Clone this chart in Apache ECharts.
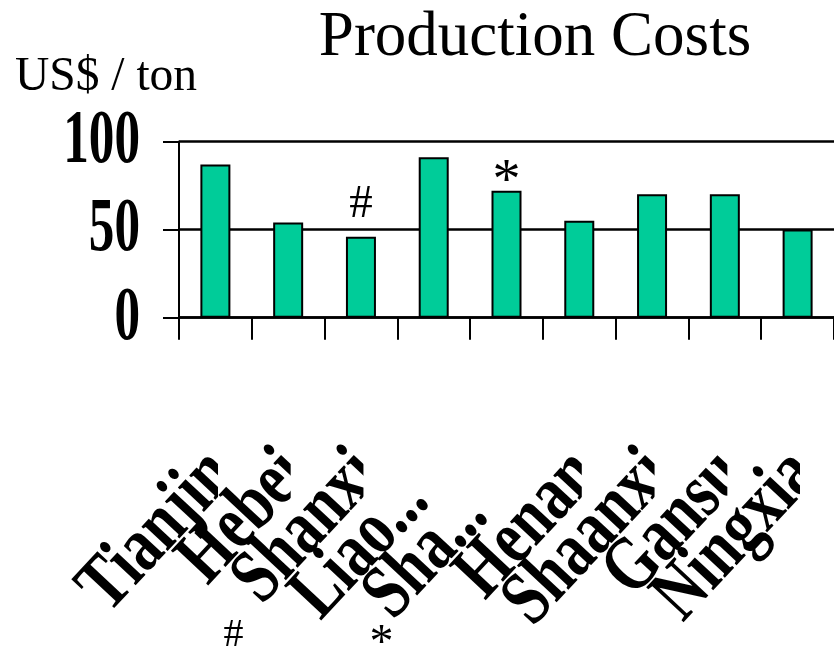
<!DOCTYPE html>
<html>
<head>
<meta charset="utf-8">
<title>Production Costs</title>
<script src="https://cdn.jsdelivr.net/npm/echarts@6/dist/echarts.min.js"></script>
<style>
  html, body { margin: 0; padding: 0; background: #fff; }
  #chart { width: 834px; height: 656px; }
</style>
</head>
<body>
<div id="chart"></div>
<script>
// Production costs per province, US$ per ton
const provinces = ['Tianjin', 'Hebei', 'Shanxi', 'Liaoning', 'Shandong', 'Henan', 'Shaanxi', 'Gansu', 'Ningxia'];
const tickLabels = ['Tianjin', 'Hebei', 'Shanxi', 'Liao...', 'Sha...', 'Henan', 'Shaanxi', 'Gansu', 'Ningxia'];
const costs = [87, 54, 46, 91, 72, 55, 70, 70, 50];
const barMarks = ['', '', '#', '', '*', '', '', '', ''];
const yTicks = [0, 50, 100];
const footnotes = ['#', '*'];

const SERIF = "'Liberation Serif', 'Times New Roman', serif";
const markStyle = { '#': 'hash', '*': 'star' };

// category label box: text is squeezed along its baseline and clipped at the tick
const CAT_FONT = 'bold 78px ' + SERIF;
const CAT_SCALE = 0.77;
const CAT_BOX = 257;
const CAT_ANGLE = 47 * Math.PI / 180;

const chart = echarts.init(document.getElementById('chart'), null, { renderer: 'canvas' });

const option = {
  animation: false,
  backgroundColor: '#fff',
  grid: { left: 179, top: 141.5, width: 662.4, height: 176.2, containLabel: false },
  xAxis: {
    type: 'category',
    data: provinces,
    boundaryGap: true,
    axisLine: { show: true, lineStyle: { color: '#000', width: 2.5 } },
    axisTick: { show: true, length: 22, inside: false, lineStyle: { color: '#000', width: 2 } },
    axisLabel: { show: false },
    splitLine: { show: false }
  },
  yAxis: {
    type: 'value',
    min: 0,
    max: 100,
    interval: 50,
    axisLine: { show: true, lineStyle: { color: '#000', width: 2 } },
    axisTick: { show: true, length: 16, inside: false, lineStyle: { color: '#000', width: 2 } },
    axisLabel: { show: false },
    splitLine: { show: true, lineStyle: { color: '#000', width: 2.5 } }
  },
  graphic: [
    {
      type: 'text', x: 535, y: 38,
      style: { text: 'Production Costs', font: 'normal 63px ' + SERIF, fill: '#000', align: 'center', verticalAlign: 'middle' }
    },
    {
      type: 'text', x: 15, y: 77.5,
      style: { text: 'US$ / ton', font: 'normal 47.5px ' + SERIF, fill: '#000', align: 'left', verticalAlign: 'middle' }
    },
    {
      type: 'text', x: 233.5, y: 635,
      style: { text: footnotes[0], font: 'normal 40px ' + SERIF, fill: '#000', align: 'center', verticalAlign: 'middle' }
    },
    {
      type: 'text', x: 381.5, y: 644,
      style: { text: footnotes[1], font: 'normal 48px ' + SERIF, fill: '#000', align: 'center', verticalAlign: 'middle' }
    }
  ],
  series: [
    {
      type: 'bar',
      data: costs,
      barWidth: 30,
      itemStyle: { color: '#00CC99', borderColor: '#000', borderWidth: 2 },
      label: {
        show: true,
        position: 'top',
        distance: 0,
        formatter: (p) => {
          const m = barMarks[p.dataIndex];
          return m ? '{' + markStyle[m] + '|' + m + '}' : '';
        },
        rich: {
          hash: { fontFamily: SERIF, fontSize: 47, color: '#000', lineHeight: 64 },
          star: { fontFamily: SERIF, fontSize: 56, color: '#000', lineHeight: 16 }
        }
      },
      silent: true,
      z: 3
    },
    {
      // rotated category labels, clipped at the tick position
      type: 'custom',
      data: tickLabels.map((t, i) => [i, 0]),
      encode: { x: 0, y: 1 },
      clip: false,
      silent: true,
      z: 5,
      renderItem: (params, api) => {
        const i = api.value(0);
        const pt = api.coord([i, 0]);
        const text = tickLabels[i];
        const shortened = text.endsWith('...');
        return {
          type: 'group',
          clipPath: { type: 'rect', shape: { x: 0, y: 0, width: pt[0] + 2.5, height: 656 } },
          children: [{
            type: 'text',
            x: pt[0] + 7,
            y: pt[1] + 145,
            rotation: CAT_ANGLE,
            scaleX: CAT_SCALE,
            style: {
              text: text,
              x: shortened ? -CAT_BOX : 0,
              font: CAT_FONT,
              fill: '#000',
              align: shortened ? 'left' : 'right',
              verticalAlign: 'middle'
            }
          }]
        };
      }
    },
    {
      // condensed value-axis labels
      type: 'custom',
      data: yTicks.map((v) => [0, v]),
      encode: { x: 0, y: 1 },
      clip: false,
      silent: true,
      z: 5,
      renderItem: (params, api) => {
        const v = api.value(1);
        const pt = api.coord([0, v]);
        return {
          type: 'text',
          x: params.coordSys.x - 39,
          y: pt[1] + 1,
          scaleX: 0.665,
          style: {
            text: String(v),
            font: 'bold 77px ' + SERIF,
            fill: '#000',
            align: 'right',
            verticalAlign: 'middle'
          }
        };
      }
    }
  ]
};

chart.setOption(option);
</script>
</body>
</html>
